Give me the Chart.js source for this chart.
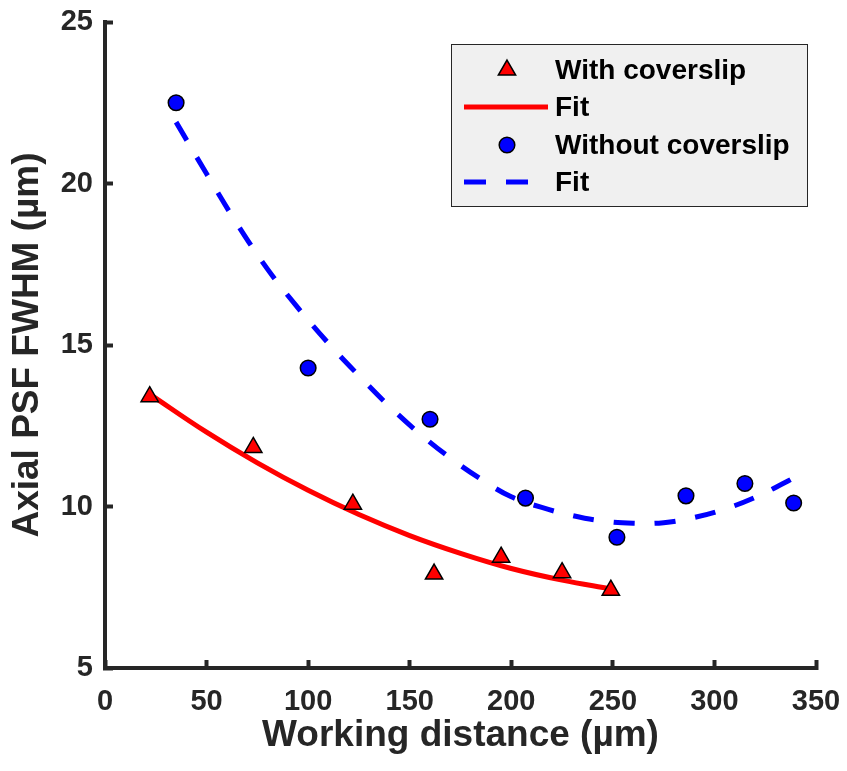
<!DOCTYPE html>
<html>
<head>
<meta charset="utf-8">
<script src="https://cdn.jsdelivr.net/npm/chart.js@4/dist/chart.umd.min.js"></script>
<style>
  html, body { margin: 0; padding: 0; background: #fff; }
  #wrap { width: 847px; height: 771px; }
</style>
</head>
<body>
<div id="wrap"><canvas id="chart" width="847" height="771"></canvas></div>
<script>
// measured points, with coverslip
const withX = [22, 73, 122, 162, 195, 225, 249]
const withY = [13.4, 11.83, 10.07, 7.91, 8.43, 7.95, 7.41]

// measured points, without coverslip
const withoutX = [35, 100, 160, 207, 252, 286, 315, 339]
const withoutY = [22.5, 14.29, 12.7, 10.26, 9.05, 10.33, 10.71, 10.11]

// fit curves, values
const fitWithX = [22, 50, 75, 100, 125, 150, 175, 200, 225, 249]
const fitWithY = [13.48, 12.3, 11.35, 10.5, 9.75, 9.1, 8.55, 8.08, 7.72, 7.45]

const fitWithoutX = [35, 50, 65, 80, 95, 110, 125, 140, 155, 170, 185, 200, 215, 230, 245, 260, 275, 290, 305, 320, 335, 340]
const fitWithoutY = [21.9, 20.3, 18.75, 17.35, 16.15, 15.05, 14.05, 13.1, 12.25, 11.5, 10.85, 10.3, 9.97, 9.72, 9.55, 9.48, 9.5, 9.66, 9.92, 10.28, 10.75, 10.92]

const xTicks = [0, 50, 100, 150, 200, 250, 300, 350]
const yTicks = [5, 10, 15, 20, 25]

const legendLabels = ['With coverslip', 'Fit', 'Without coverslip', 'Fit']

const pts = (xs, ys) => xs.map((x, i) => ({ x: x, y: ys[i] }))

const FONT = 'Liberation Sans, Arial, Helvetica, sans-serif'
const AXIS = '#262626'

// MATLAB-style legend box drawn by hand
const boxLegend = {
  id: 'boxLegend',
  afterDraw(chart) {
    const ctx = chart.ctx
    const left = 451, top = 44, right = 808, bottom = 207
    const rows = [70, 107, 145, 182]
    ctx.save()
    ctx.fillStyle = '#f0f0f0'
    ctx.fillRect(left, top, right - left, bottom - top)
    ctx.strokeStyle = AXIS
    ctx.lineWidth = 1
    ctx.strokeRect(left + 0.5, top + 0.5, right - left - 1, bottom - top - 1)

    const ds = chart.data.datasets
    legendLabels.forEach((label, i) => {
      const d = ds[i]
      const y = rows[i]
      if (d.showLine) {
        ctx.strokeStyle = d.borderColor
        ctx.lineWidth = d.borderWidth
        ctx.setLineDash(d.borderDash ? [22, 20] : [])
        ctx.beginPath()
        ctx.moveTo(464, y)
        ctx.lineTo(548, y)
        ctx.stroke()
        ctx.setLineDash([])
      } else {
        ctx.fillStyle = d.pointBackgroundColor
        ctx.strokeStyle = d.pointBorderColor
        ctx.lineWidth = d.pointBorderWidth
        Chart.helpers.drawPoint(ctx, {
          pointStyle: d.pointStyle,
          radius: d.pointRadius,
          borderWidth: d.pointBorderWidth,
          rotation: 0
        }, 507, y)
      }
      ctx.fillStyle = '#000'
      ctx.font = 'bold 28px ' + FONT
      ctx.textAlign = 'left'
      ctx.textBaseline = 'middle'
      ctx.fillText(label, 555, y + 1)
    })
    ctx.restore()
  }
}

const ctx = document.getElementById('chart')
const chart = new Chart(ctx, {
  type: 'scatter',
  data: {
    datasets: [{
      label: legendLabels[0],
      data: pts(withX, withY),
      showLine: false,
      pointStyle: 'triangle',
      pointRadius: 10,
      pointBorderWidth: 1.5,
      pointBackgroundColor: '#ff0000',
      pointBorderColor: '#000',
      order: 0
    }, {
      label: legendLabels[1],
      data: pts(fitWithX, fitWithY),
      type: 'line',
      showLine: true,
      borderColor: '#ff0000',
      borderWidth: 5,
      pointRadius: 0,
      tension: 0.4,
      fill: false,
      order: 2
    }, {
      label: legendLabels[2],
      data: pts(withoutX, withoutY),
      showLine: false,
      pointStyle: 'circle',
      pointRadius: 7.8,
      pointBorderWidth: 1.5,
      pointBackgroundColor: '#0000ff',
      pointBorderColor: '#000',
      order: 0
    }, {
      label: legendLabels[3],
      data: pts(fitWithoutX, fitWithoutY),
      type: 'line',
      showLine: true,
      borderColor: '#0000ff',
      borderWidth: 5,
      borderDash: [21, 20],
      pointRadius: 0,
      tension: 0.4,
      fill: false,
      order: 1
    }]
  },
  options: {
    responsive: false,
    animation: false,
    layout: { padding: { top: 22, right: 31, left: 0, bottom: 0 } },
    plugins: {
      legend: { display: false },
      tooltip: { enabled: false }
    },
    scales: {
      x: {
        type: 'linear',
        min: xTicks[0],
        max: xTicks[xTicks.length - 1],
        afterBuildTicks: s => { s.ticks = xTicks.map(v => ({ value: v })) },
        afterFit: s => { s.height = 103; s.paddingLeft = 0; s.paddingRight = 0 },
        border: { display: true, color: AXIS, width: 4 },
        grid: { drawOnChartArea: false, drawTicks: true, tickLength: -8, tickColor: AXIS, tickWidth: 4 },
        ticks: { color: AXIS, padding: 25, font: { family: FONT, size: 29, weight: 'bold' } },
        title: {
          display: true,
          text: 'Working distance (µm)',
          color: AXIS,
          padding: { top: 0, bottom: 13 },
          font: { family: FONT, size: 37, weight: 'bold' }
        }
      },
      y: {
        type: 'linear',
        min: yTicks[0],
        max: yTicks[yTicks.length - 1],
        afterBuildTicks: s => { s.ticks = yTicks.map(v => ({ value: v })) },
        afterFit: s => { s.width = 105; s.paddingTop = 0; s.paddingBottom = 0 },
        border: { display: true, color: AXIS, width: 4 },
        grid: { drawOnChartArea: false, drawTicks: true, tickLength: -8, tickColor: AXIS, tickWidth: 4 },
        ticks: { color: AXIS, padding: 20, font: { family: FONT, size: 29, weight: 'bold' } },
        title: {
          display: true,
          text: 'Axial PSF FWHM (µm)',
          color: AXIS,
          padding: { top: 6, bottom: 0 },
          font: { family: FONT, size: 37, weight: 'bold' }
        }
      }
    }
  },
  plugins: [boxLegend]
})
</script>
</body>
</html>
